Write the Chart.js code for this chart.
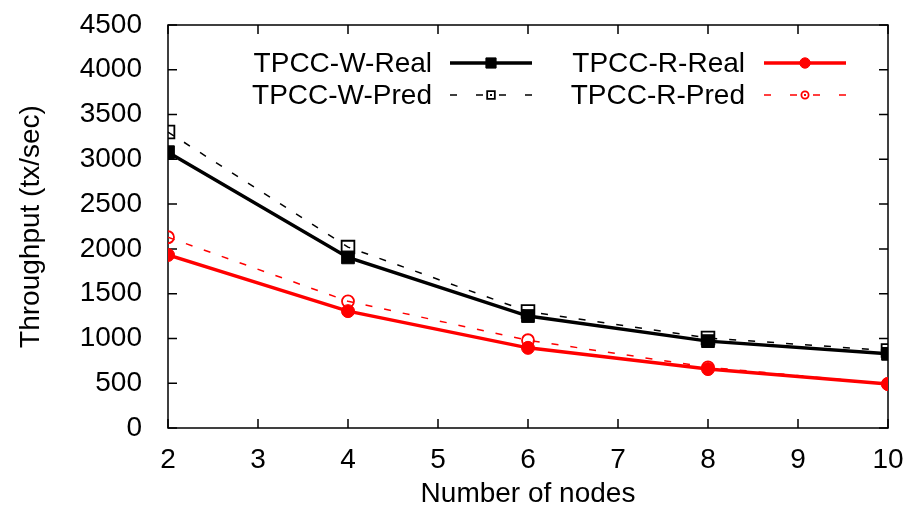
<!DOCTYPE html>
<html>
<head>
<meta charset="utf-8">
<script src="https://cdn.jsdelivr.net/npm/chart.js@4"></script>
<style>
  html, body { margin: 0; padding: 0; background: #fff; }
  #wrap { width: 921px; height: 517px; }
</style>
</head>
<body>
<div id="wrap"><canvas id="chart"></canvas></div>
<script>
var nodes = [2, 4, 6, 8, 10];
var wReal = [3080, 1905, 1250, 970, 828];
var wPred = [3305, 2020, 1300, 1005, 865];
var rReal = [1932, 1305, 895, 658, 490];
var rPred = [2130, 1415, 980, 678, 492];
var seriesNames = ['TPCC-W-Real', 'TPCC-W-Pred', 'TPCC-R-Real', 'TPCC-R-Pred'];

var FONT = '"Liberation Sans", Arial, Helvetica, sans-serif';
var FSIZE = 28;

function pts(vals) {
    var out = [];
    for (var i = 0; i < nodes.length; i++) {
        out.push({x: nodes[i], y: vals[i]});
    }
    return out;
}

// frame + inward ticks on all four sides (gnuplot style)
var framePlugin = {
    id: 'frame',
    beforeDatasetsDraw: function (chart) {
        var ctx = chart.ctx;
        var a = chart.chartArea;
        var xs = chart.scales.x, ys = chart.scales.y;
        var tl = 9;
        ctx.save();
        ctx.strokeStyle = '#000';
        ctx.lineWidth = 1.5;
        ctx.strokeRect(a.left, a.top, a.right - a.left, a.bottom - a.top);
        ctx.beginPath();
        xs.ticks.forEach(function (t) {
            var px = xs.getPixelForValue(t.value);
            ctx.moveTo(px, a.bottom); ctx.lineTo(px, a.bottom - tl);
            ctx.moveTo(px, a.top); ctx.lineTo(px, a.top + tl);
        });
        ys.ticks.forEach(function (t) {
            var py = ys.getPixelForValue(t.value);
            ctx.moveTo(a.left, py); ctx.lineTo(a.left + tl, py);
            ctx.moveTo(a.right, py); ctx.lineTo(a.right - tl, py);
        });
        ctx.stroke();
        ctx.restore();
    }
};

// two-column key in the top of the plot
var keyPlugin = {
    id: 'key',
    afterDatasetsDraw: function (chart) {
        var ctx = chart.ctx;
        var slots = [
            {tx: 432, x1: 450, x2: 532, y: 63},
            {tx: 432, x1: 450, x2: 532, y: 95},
            {tx: 745, x1: 764, x2: 846, y: 63},
            {tx: 745, x1: 764, x2: 846, y: 95}
        ];
        ctx.save();
        chart.data.datasets.forEach(function (ds, i) {
            var s = slots[i];
            var mx = (s.x1 + s.x2) / 2;
            ctx.font = FSIZE + 'px ' + FONT;
            ctx.fillStyle = '#000';
            ctx.textAlign = 'right';
            ctx.textBaseline = 'middle';
            ctx.fillText(ds.label, s.tx, s.y + 1);
            ctx.strokeStyle = ds.borderColor;
            ctx.lineWidth = ds.borderWidth;
            ctx.beginPath();
            if (ds.borderDash) {
                [[-41, -34], [-15, -8], [8, 15], [34, 41]].forEach(function (seg) {
                    ctx.moveTo(mx + seg[0], s.y); ctx.lineTo(mx + seg[1], s.y);
                });
            } else {
                ctx.moveTo(s.x1, s.y); ctx.lineTo(s.x2, s.y);
            }
            ctx.stroke();
            var r = ds.borderDash ? ds.pointRadius * 0.6 : ds.pointRadius * 0.8;
            ctx.fillStyle = ds.pointBackgroundColor;
            ctx.lineWidth = ds.pointBorderWidth;
            ctx.beginPath();
            if (ds.pointStyle === 'rect') {
                var h = r * Math.SQRT1_2;
                ctx.rect(mx - h, s.y - h, 2 * h, 2 * h);
            } else {
                ctx.arc(mx, s.y, r, 0, Math.PI * 2);
            }
            if (!ds.borderDash) ctx.fill();
            ctx.stroke();
            if (ds.borderDash) {
                ctx.fillStyle = ds.borderColor;
                ctx.fillRect(mx - 1, s.y - 1, 2, 2);
            }
        });
        ctx.restore();
    }
};

var ctx = document.getElementById('chart');
var myChart = new Chart(ctx, {
    type: 'line',
    data: {
        datasets: [{
            label: seriesNames[0],
            data: pts(wReal),
            borderColor: '#000',
            backgroundColor: '#000',
            borderWidth: 3.5,
            pointStyle: 'rect',
            pointRadius: 9,
            pointBackgroundColor: '#000',
            pointBorderColor: '#000',
            pointBorderWidth: 1
        }, {
            label: seriesNames[1],
            data: pts(wPred),
            borderColor: '#000',
            borderWidth: 1.5,
            borderDash: [7, 12],
            pointStyle: 'rect',
            pointRadius: 9,
            pointBackgroundColor: 'rgba(0,0,0,0)',
            pointBorderColor: '#000',
            pointBorderWidth: 1.8
        }, {
            label: seriesNames[2],
            data: pts(rReal),
            borderColor: '#ff0000',
            backgroundColor: '#ff0000',
            borderWidth: 3.5,
            pointStyle: 'circle',
            pointRadius: 6.5,
            pointBackgroundColor: '#ff0000',
            pointBorderColor: '#ff0000',
            pointBorderWidth: 1
        }, {
            label: seriesNames[3],
            data: pts(rPred),
            borderColor: '#ff0000',
            borderWidth: 1.5,
            borderDash: [7, 12],
            pointStyle: 'circle',
            pointRadius: 6,
            pointBackgroundColor: 'rgba(0,0,0,0)',
            pointBorderColor: '#ff0000',
            pointBorderWidth: 1.8
        }]
    },
    options: {
        responsive: true,
        maintainAspectRatio: false,
        animation: false,
        layout: { padding: { top: 25, right: 33, left: 0, bottom: 0 } },
        plugins: {
            legend: { display: false },
            tooltip: { enabled: false }
        },
        scales: {
            x: {
                type: 'linear',
                min: 2,
                max: 10,
                grid: { display: false },
                border: { display: false },
                ticks: {
                    stepSize: 1,
                    padding: 7,
                    autoSkip: false,
                    maxRotation: 0,
                    color: '#000',
                    font: { family: FONT, size: FSIZE }
                },
                title: {
                    display: true,
                    text: 'Number of nodes',
                    color: '#000',
                    font: { family: FONT, size: FSIZE },
                    padding: { top: 0, bottom: 6 }
                },
                afterFit: function (scale) {
                    scale.height = 89;
                    scale.paddingLeft = 0;
                    scale.paddingRight = 0;
                }
            },
            y: {
                min: 0,
                max: 4500,
                grid: { display: false },
                border: { display: false },
                ticks: {
                    stepSize: 500,
                    padding: 18,
                    autoSkip: false,
                    color: '#000',
                    font: { family: FONT, size: FSIZE },
                    callback: function (v) { return String(v); }
                },
                title: {
                    display: true,
                    text: 'Throughput (tx/sec)',
                    color: '#000',
                    font: { family: FONT, size: FSIZE },
                    padding: { top: 14, bottom: 0 }
                },
                afterFit: function (scale) {
                    scale.width = 168;
                    scale.paddingTop = 0;
                    scale.paddingBottom = 0;
                }
            }
        }
    },
    plugins: [framePlugin, keyPlugin]
});
</script>
</body>
</html>
